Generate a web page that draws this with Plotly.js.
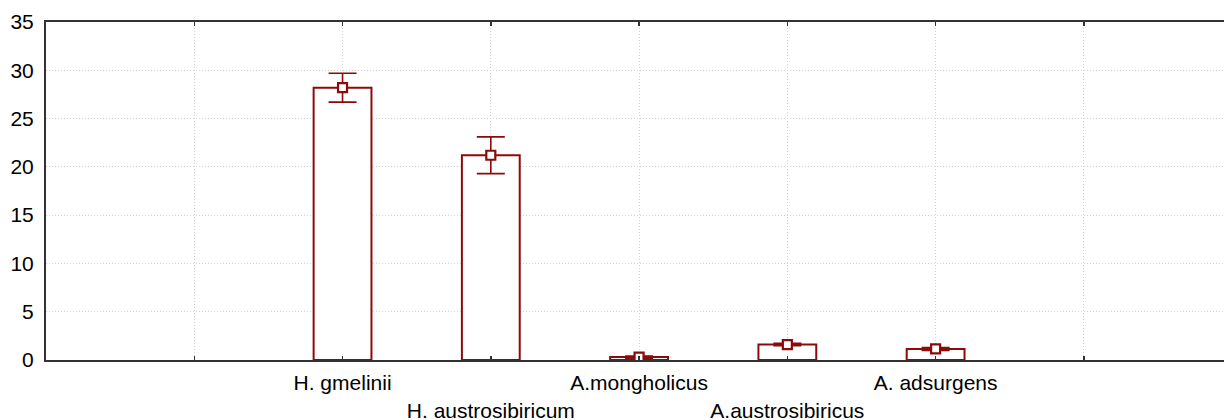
<!DOCTYPE html>
<html>
<head>
<meta charset="utf-8">
<script src="https://cdn.plot.ly/plotly-3.0.1.min.js"></script>
<style>
  html, body { margin: 0; padding: 0; background: #fff; overflow: hidden; }
  #chart { width: 1224px; height: 420px; }
</style>
</head>
<body>
<div id="chart"></div>
<script>
// Species (category positions 1..5 on a linear axis; 0 and 6 are empty slots)
const species = ['H. gmelinii', 'H. austrosibiricum', 'A.mongholicus', 'A.austrosibiricus', 'A. adsurgens'];
const positions = [1, 2, 3, 4, 5];
// Mean values and their error half-widths
const means = [28.2, 21.2, 0.3, 1.6, 1.15];
const errors = [1.5, 1.9, 0.12, 0.12, 0.15];

// Axis tick labels: alternating rows so long names don't collide
const tickPositions = [0, 1, 2, 3, 4, 5, 6];
const tickLabels = ['', 'H. gmelinii', '<br>H. austrosibiricum', 'A.mongholicus', '<br>A.austrosibiricus', 'A. adsurgens', ''];

const dark = '#8c0a0a';

const bars = {
  type: 'bar',
  x: positions,
  y: means,
  width: 0.39,
  marker: { color: '#ffffff', line: { color: dark, width: 2 } },
  hoverinfo: 'skip',
  showlegend: false
};

const points = {
  type: 'scatter',
  mode: 'markers',
  x: positions,
  y: means,
  marker: { symbol: 'square', size: 9, color: '#ffffff', line: { color: dark, width: 2.2 } },
  error_y: { type: 'data', array: errors, visible: true, color: dark, thickness: 1.6, width: 14 },
  showlegend: false
};

const layout = {
  width: 1224,
  height: 420,
  margin: { l: 46, r: 0, t: 22, b: 60 },
  paper_bgcolor: '#ffffff',
  plot_bgcolor: '#ffffff',
  font: { family: 'Liberation Sans, Arial, sans-serif', size: 21, color: '#000' },
  bargap: 0,
  xaxis: {
    range: [-1, 6.945],
    tickmode: 'array',
    tickvals: tickPositions,
    ticktext: tickLabels,
    tickangle: 0,
    showgrid: true,
    gridcolor: '#d2d2d2',
    griddash: '1px,2px',
    gridwidth: 1,
    zeroline: false,
    showline: true,
    linecolor: '#333333',
    linewidth: 2,
    mirror: 'ticks',
    ticks: 'inside',
    ticklen: 4,
    tickwidth: 1.5,
    tickcolor: '#333333',
    ticklabelstandoff: 3,
    tickfont: { size: 21 }
  },
  yaxis: {
    range: [0, 35],
    tick0: 0,
    dtick: 5,
    showgrid: true,
    gridcolor: '#d2d2d2',
    griddash: '1px,2px',
    gridwidth: 1,
    zeroline: false,
    showline: true,
    linecolor: '#333333',
    linewidth: 2,
    ticks: '',
    ticklabelstandoff: 6,
    tickfont: { size: 21 }
  }
};

Plotly.newPlot('chart', [bars, points], layout, { staticPlot: true, displayModeBar: false });
</script>
</body>
</html>
